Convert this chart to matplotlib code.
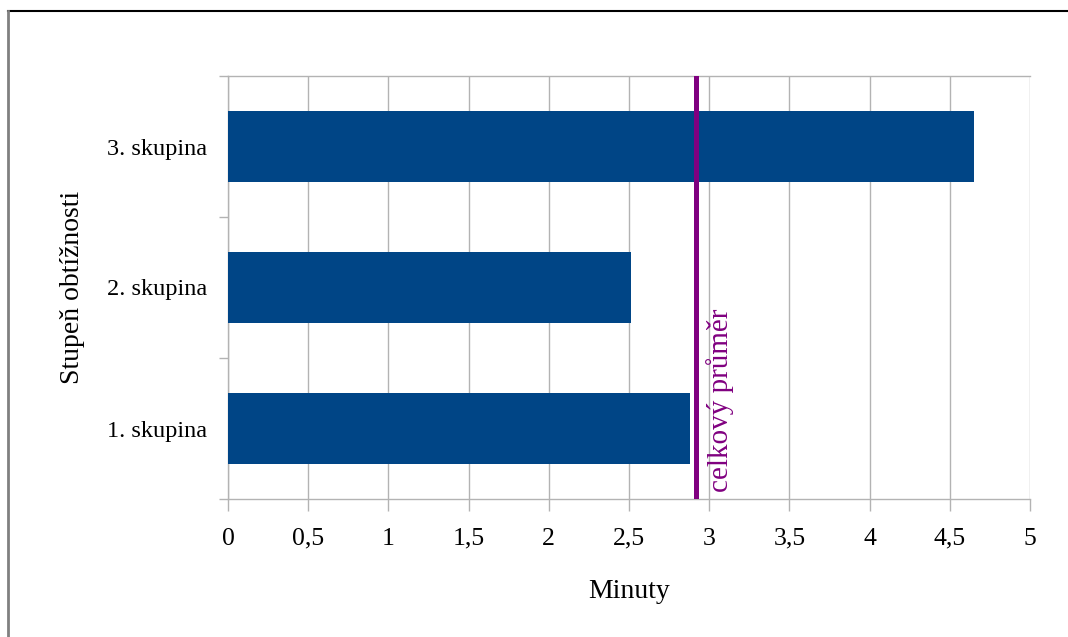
import matplotlib.pyplot as plt
from matplotlib.lines import Line2D

categories = ["1. skupina", "2. skupina", "3. skupina"]
minutes = [2.88, 2.51, 4.65]
overall_mean = 2.92
mean_label = "celkový průměr"
x_ticks = [0, 0.5, 1, 1.5, 2, 2.5, 3, 3.5, 4, 4.5, 5]
x_tick_labels = ["0", "0,5", "1", "1,5", "2", "2,5", "3", "3,5", "4", "4,5", "5"]

plt.rcParams['font.family'] = ['Liberation Serif', 'DejaVu Serif']

W, H = 1068, 637
fig = plt.figure(figsize=(W / 100, H / 100), dpi=100)
ax = fig.add_axes([228 / W, 1 - 499 / H, (1030 - 228) / W, (499 - 76) / H])

bar_color = "#004586"
grid_color = "#b3b3b3"

ax.barh(range(len(categories)), minutes, height=0.5, color=bar_color, zorder=3)
ax.set_xlim(0, 5)
ax.set_ylim(-0.5, len(categories) - 0.5)

ax.set_xticks(x_ticks)
ax.set_xticklabels(x_tick_labels, fontsize=18.5)
ax.set_yticks(range(len(categories)))
ax.set_yticklabels(categories, fontsize=17.5)
ax.set_yticks([-0.5, 0.5, 1.5, 2.5], minor=True)

ax.tick_params(axis='y', which='major', length=0, pad=15)
ax.tick_params(axis='y', which='minor', length=6.5, color=grid_color, width=1)
ax.tick_params(axis='x', which='major', length=8.6, color=grid_color, width=1, pad=12)

ax.grid(axis='x', color=grid_color, linewidth=1, zorder=0)
for side in ['left', 'bottom', 'top', 'right']:
    ax.spines[side].set_color(grid_color)
    ax.spines[side].set_linewidth(1)
ax.spines['right'].set_visible(False)

ax.axvline(overall_mean, color="#800080", linewidth=3.6, zorder=4)
ax.text(overall_mean + 0.06, -0.45, mean_label, rotation=90, color="#800080",
        fontsize=21, ha='left', va='bottom', zorder=5)

ax.set_xlabel("Minuty", fontsize=20, labelpad=21)
ax.set_ylabel("Stupeň obtížnosti", fontsize=20, labelpad=16)

# outer frame: dark top edge and grey left edge
fig.add_artist(Line2D([8 / W, 1], [1 - 11 / H, 1 - 11 / H], transform=fig.transFigure,
                      color="black", linewidth=1.5))
fig.add_artist(Line2D([8 / W, 8 / W], [0, 1 - 11 / H], transform=fig.transFigure,
                      color="#808080", linewidth=2))

fig.savefig("out.png", dpi=100, facecolor="white")
